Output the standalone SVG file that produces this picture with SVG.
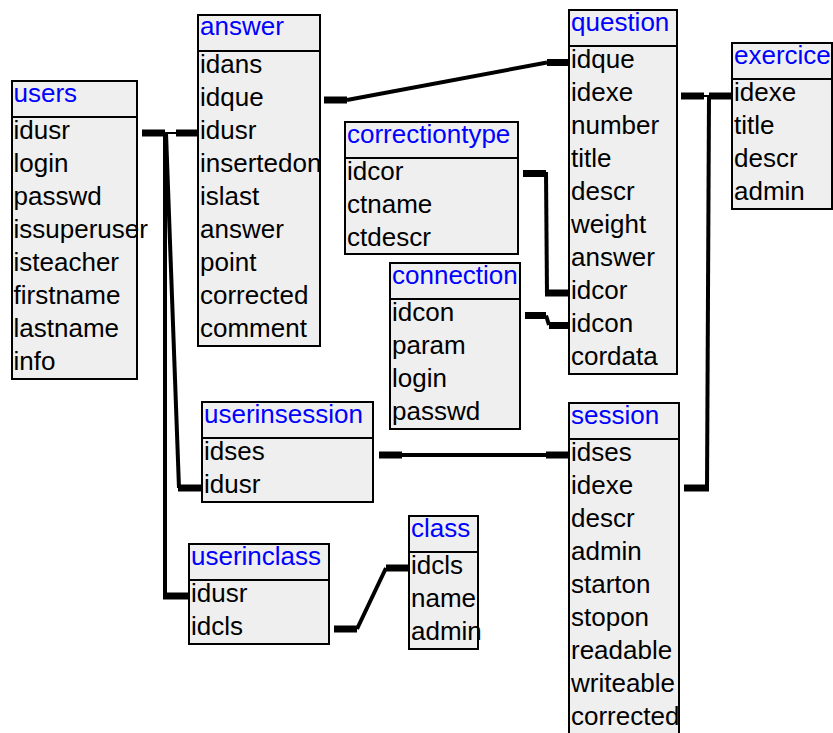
<svg xmlns="http://www.w3.org/2000/svg" width="833" height="733" viewBox="0 0 833 733">
<style>
.box{fill:#efefef;stroke:#000;stroke-width:2}
.sep{stroke:#000;stroke-width:2}
text{font-family:"Liberation Sans",Arial,Helvetica,sans-serif;font-size:26px}
.hdr{fill:#0000ff}
.fld{fill:#000}
.stub{stroke:#000;stroke-width:7;fill:none}
.ln{stroke:#000;stroke-width:4;fill:none}
.thin{stroke:#000;stroke-width:2;fill:none}
</style>
<rect width="833" height="733" fill="#fff"/>
<g id="connectors">
<line class="stub" x1="142" y1="133" x2="165" y2="133"/>
<line class="thin" x1="165" y1="133" x2="176" y2="133"/>
<line class="stub" x1="176" y1="133" x2="199" y2="133"/>
<line class="ln" x1="166" y1="133" x2="179" y2="488"/>
<line class="stub" x1="178" y1="488" x2="202" y2="488"/>
<line class="ln" x1="165" y1="133" x2="165" y2="596"/>
<line class="stub" x1="163" y1="596" x2="189" y2="596"/>
<line class="stub" x1="324" y1="100" x2="347" y2="100"/>
<line class="ln" x1="347" y1="100" x2="547" y2="62.5"/>
<line class="stub" x1="547" y1="62.5" x2="570" y2="62.5"/>
<line class="stub" x1="681" y1="96" x2="704" y2="96"/>
<line class="thin" x1="704" y1="96" x2="709" y2="96"/>
<line class="stub" x1="709" y1="96" x2="732" y2="96"/>
<line class="ln" x1="709" y1="96" x2="707" y2="490"/>
<line class="stub" x1="684" y1="488" x2="709" y2="488"/>
<line class="stub" x1="523" y1="173.5" x2="546" y2="173.5"/>
<line class="ln" x1="546" y1="172" x2="547" y2="295"/>
<line class="stub" x1="545" y1="293" x2="569" y2="293"/>
<line class="stub" x1="525" y1="315.5" x2="546" y2="315.5"/>
<line class="ln" x1="546" y1="315.5" x2="549" y2="325"/>
<line class="stub" x1="549" y1="325.5" x2="569" y2="325.5"/>
<line class="stub" x1="379" y1="455" x2="402" y2="455"/>
<line class="ln" x1="402" y1="455" x2="546" y2="455"/>
<line class="stub" x1="546" y1="455" x2="569" y2="455"/>
<line class="stub" x1="334" y1="629" x2="357" y2="629"/>
<line class="ln" x1="357" y1="629" x2="386" y2="568"/>
<line class="stub" x1="386" y1="568" x2="409" y2="568"/>
</g>
<g id="users">
<rect class="box" x="12" y="81" width="125" height="298"/>
<line class="sep" x1="12" y1="117" x2="137" y2="117"/>
<text class="hdr" x="13.5" y="102">users</text>
<text class="fld" x="13.5" y="139">idusr</text>
<text class="fld" x="13.5" y="172">login</text>
<text class="fld" x="13.5" y="205">passwd</text>
<text class="fld" x="13.5" y="238">issuperuser</text>
<text class="fld" x="13.5" y="271">isteacher</text>
<text class="fld" x="13.5" y="304">firstname</text>
<text class="fld" x="13.5" y="337">lastname</text>
<text class="fld" x="13.5" y="370">info</text>
</g>
<g id="answer">
<rect class="box" x="198" y="15" width="122" height="331"/>
<line class="sep" x1="198" y1="51" x2="320" y2="51"/>
<text class="hdr" x="200" y="35">answer</text>
<text class="fld" x="200" y="73">idans</text>
<text class="fld" x="200" y="106">idque</text>
<text class="fld" x="200" y="139">idusr</text>
<text class="fld" x="200" y="172">insertedon</text>
<text class="fld" x="200" y="205">islast</text>
<text class="fld" x="200" y="238">answer</text>
<text class="fld" x="200" y="271">point</text>
<text class="fld" x="200" y="304">corrected</text>
<text class="fld" x="200" y="337">comment</text>
</g>
<g id="question">
<rect class="box" x="569" y="10" width="108" height="364"/>
<line class="sep" x1="569" y1="46" x2="677" y2="46"/>
<text class="hdr" x="571" y="31">question</text>
<text class="fld" x="571" y="68">idque</text>
<text class="fld" x="571" y="101">idexe</text>
<text class="fld" x="571" y="134">number</text>
<text class="fld" x="571" y="167">title</text>
<text class="fld" x="571" y="200">descr</text>
<text class="fld" x="571" y="233">weight</text>
<text class="fld" x="571" y="266">answer</text>
<text class="fld" x="571" y="299">idcor</text>
<text class="fld" x="571" y="332">idcon</text>
<text class="fld" x="571" y="365">cordata</text>
</g>
<g id="exercice">
<rect class="box" x="732" y="43" width="100" height="166"/>
<line class="sep" x1="732" y1="79" x2="832" y2="79"/>
<text class="hdr" x="734" y="64">exercice</text>
<text class="fld" x="734" y="101">idexe</text>
<text class="fld" x="734" y="134">title</text>
<text class="fld" x="734" y="167">descr</text>
<text class="fld" x="734" y="200">admin</text>
</g>
<g id="correctiontype">
<rect class="box" x="345" y="122" width="173" height="132"/>
<line class="sep" x1="345" y1="158" x2="518" y2="158"/>
<text class="hdr" x="347" y="143">correctiontype</text>
<text class="fld" x="347" y="180">idcor</text>
<text class="fld" x="347" y="213">ctname</text>
<text class="fld" x="347" y="246">ctdescr</text>
</g>
<g id="connection">
<rect class="box" x="390" y="263" width="130" height="166"/>
<line class="sep" x1="390" y1="299" x2="520" y2="299"/>
<text class="hdr" x="392" y="284">connection</text>
<text class="fld" x="392" y="321">idcon</text>
<text class="fld" x="392" y="354">param</text>
<text class="fld" x="392" y="387">login</text>
<text class="fld" x="392" y="420">passwd</text>
</g>
<g id="userinsession">
<rect class="box" x="202" y="402" width="171" height="100"/>
<line class="sep" x1="202" y1="438" x2="373" y2="438"/>
<text class="hdr" x="204" y="423">userinsession</text>
<text class="fld" x="204" y="460">idses</text>
<text class="fld" x="204" y="493">idusr</text>
</g>
<g id="session">
<rect class="box" x="569" y="403" width="110" height="334"/>
<line class="sep" x1="569" y1="439" x2="679" y2="439"/>
<text class="hdr" x="571" y="424">session</text>
<text class="fld" x="571" y="461">idses</text>
<text class="fld" x="571" y="494">idexe</text>
<text class="fld" x="571" y="527">descr</text>
<text class="fld" x="571" y="560">admin</text>
<text class="fld" x="571" y="593">starton</text>
<text class="fld" x="571" y="626">stopon</text>
<text class="fld" x="571" y="659">readable</text>
<text class="fld" x="571" y="692">writeable</text>
<text class="fld" x="571" y="725">corrected</text>
</g>
<g id="userinclass">
<rect class="box" x="189" y="544" width="140" height="100"/>
<line class="sep" x1="189" y1="580" x2="329" y2="580"/>
<text class="hdr" x="191" y="565">userinclass</text>
<text class="fld" x="191" y="602">idusr</text>
<text class="fld" x="191" y="635">idcls</text>
</g>
<g id="class">
<rect class="box" x="409" y="516" width="69" height="133"/>
<line class="sep" x1="409" y1="552" x2="478" y2="552"/>
<text class="hdr" x="411" y="537">class</text>
<text class="fld" x="411" y="574">idcls</text>
<text class="fld" x="411" y="607">name</text>
<text class="fld" x="411" y="640">admin</text>
</g>
</svg>
